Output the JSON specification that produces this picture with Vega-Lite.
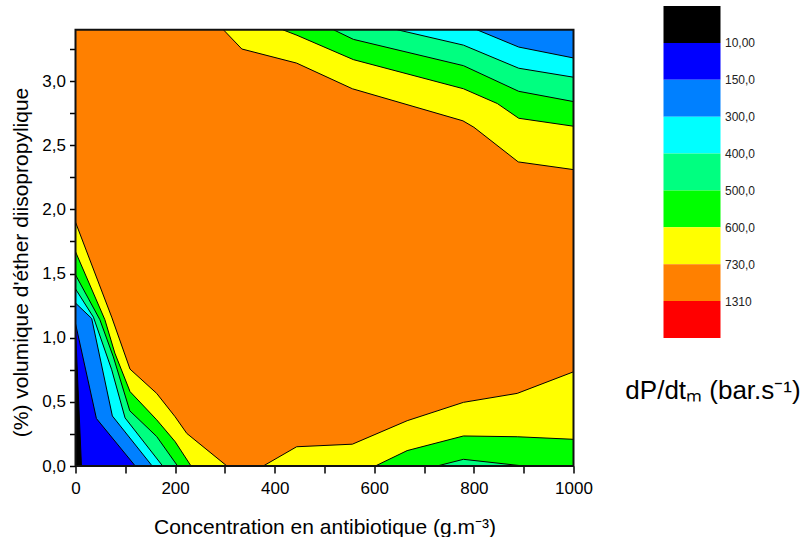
{
  "$schema": "https://vega.github.io/schema/vega-lite/v6.json",
  "background": "white",
  "padding": {"left": 10.5, "top": 6, "right": 0, "bottom": 0},
  "config": {"font": "Liberation Sans", "view": {"stroke": null}},
  "spacing": 90,
  "bounds": "flush",
  "datasets": {
    "poly": [
      {"p":"bg","lev":0,"i":0,"x":0,"y":0},{"p":"bg","lev":0,"i":1,"x":0,"y":3.4},{"p":"bg","lev":0,"i":2,"x":1000,"y":3.4},{"p":"bg","lev":0,"i":3,"x":1000,"y":0},

      {"p":"1a","lev":1,"i":0,"x":0,"y":0},{"p":"1a","lev":1,"i":1,"x":0,"y":1.9},{"p":"1a","lev":1,"i":2,"x":72.7,"y":1.16},{"p":"1a","lev":1,"i":3,"x":109.5,"y":0.755},{"p":"1a","lev":1,"i":4,"x":163,"y":0.566},{"p":"1a","lev":1,"i":5,"x":200,"y":0.384},{"p":"1a","lev":1,"i":6,"x":223.5,"y":0.254},{"p":"1a","lev":1,"i":7,"x":304,"y":0},
      {"p":"1b","lev":1,"i":0,"x":377,"y":0},{"p":"1b","lev":1,"i":1,"x":444,"y":0.15},{"p":"1b","lev":1,"i":2,"x":556,"y":0.17},{"p":"1b","lev":1,"i":3,"x":666,"y":0.353},{"p":"1b","lev":1,"i":4,"x":779,"y":0.496},{"p":"1b","lev":1,"i":5,"x":887,"y":0.566},{"p":"1b","lev":1,"i":6,"x":1000,"y":0.734},{"p":"1b","lev":1,"i":7,"x":1000,"y":0},
      {"p":"1c","lev":1,"i":0,"x":297,"y":3.4},{"p":"1c","lev":1,"i":1,"x":334,"y":3.25},{"p":"1c","lev":1,"i":2,"x":444,"y":3.14},{"p":"1c","lev":1,"i":3,"x":556,"y":2.94},{"p":"1c","lev":1,"i":4,"x":778,"y":2.69},{"p":"1c","lev":1,"i":5,"x":800,"y":2.64},{"p":"1c","lev":1,"i":6,"x":889,"y":2.37},{"p":"1c","lev":1,"i":7,"x":1000,"y":2.31},{"p":"1c","lev":1,"i":8,"x":1000,"y":3.4},

      {"p":"2a","lev":2,"i":0,"x":0,"y":0},{"p":"2a","lev":2,"i":1,"x":0,"y":1.67},{"p":"2a","lev":2,"i":2,"x":59,"y":1.14},{"p":"2a","lev":2,"i":3,"x":79,"y":0.88},{"p":"2a","lev":2,"i":4,"x":109.5,"y":0.58},{"p":"2a","lev":2,"i":5,"x":163,"y":0.36},{"p":"2a","lev":2,"i":6,"x":200,"y":0.19},{"p":"2a","lev":2,"i":7,"x":232,"y":0},
      {"p":"2b","lev":2,"i":0,"x":602,"y":0},{"p":"2b","lev":2,"i":1,"x":666,"y":0.12},{"p":"2b","lev":2,"i":2,"x":779,"y":0.234},{"p":"2b","lev":2,"i":3,"x":887,"y":0.228},{"p":"2b","lev":2,"i":4,"x":1000,"y":0.208},{"p":"2b","lev":2,"i":5,"x":1000,"y":0},
      {"p":"2c","lev":2,"i":0,"x":416,"y":3.4},{"p":"2c","lev":2,"i":1,"x":444.6,"y":3.357},{"p":"2c","lev":2,"i":2,"x":558,"y":3.167},{"p":"2c","lev":2,"i":3,"x":779,"y":2.94},{"p":"2c","lev":2,"i":4,"x":847,"y":2.825},{"p":"2c","lev":2,"i":5,"x":890,"y":2.71},{"p":"2c","lev":2,"i":6,"x":1000,"y":2.648},{"p":"2c","lev":2,"i":7,"x":1000,"y":3.4},

      {"p":"3a","lev":3,"i":0,"x":0,"y":0},{"p":"3a","lev":3,"i":1,"x":0,"y":1.49},{"p":"3a","lev":3,"i":2,"x":49,"y":1.14},{"p":"3a","lev":3,"i":3,"x":76,"y":0.85},{"p":"3a","lev":3,"i":4,"x":109,"y":0.43},{"p":"3a","lev":3,"i":5,"x":163,"y":0.23},{"p":"3a","lev":3,"i":6,"x":205,"y":0},
      {"p":"3b","lev":3,"i":0,"x":726,"y":0},{"p":"3b","lev":3,"i":1,"x":779,"y":0.052},{"p":"3b","lev":3,"i":2,"x":900,"y":0},
      {"p":"3c","lev":3,"i":0,"x":518,"y":3.4},{"p":"3c","lev":3,"i":1,"x":558,"y":3.325},{"p":"3c","lev":3,"i":2,"x":779,"y":3.12},{"p":"3c","lev":3,"i":3,"x":890,"y":2.92},{"p":"3c","lev":3,"i":4,"x":1000,"y":2.84},{"p":"3c","lev":3,"i":5,"x":1000,"y":3.4},

      {"p":"4a","lev":4,"i":0,"x":0,"y":0},{"p":"4a","lev":4,"i":1,"x":0,"y":1.38},{"p":"4a","lev":4,"i":2,"x":36,"y":1.16},{"p":"4a","lev":4,"i":3,"x":72.7,"y":0.75},{"p":"4a","lev":4,"i":4,"x":99.5,"y":0.375},{"p":"4a","lev":4,"i":5,"x":175,"y":0},
      {"p":"4c","lev":4,"i":0,"x":646,"y":3.4},{"p":"4c","lev":4,"i":1,"x":779,"y":3.28},{"p":"4c","lev":4,"i":2,"x":890,"y":3.1},{"p":"4c","lev":4,"i":3,"x":1000,"y":3.03},{"p":"4c","lev":4,"i":4,"x":1000,"y":3.4},

      {"p":"5a","lev":5,"i":0,"x":0,"y":0},{"p":"5a","lev":5,"i":1,"x":0,"y":1.27},{"p":"5a","lev":5,"i":2,"x":32.5,"y":1.15},{"p":"5a","lev":5,"i":3,"x":74,"y":0.39},{"p":"5a","lev":5,"i":4,"x":154,"y":0},
      {"p":"5c","lev":5,"i":0,"x":806,"y":3.4},{"p":"5c","lev":5,"i":1,"x":890,"y":3.265},{"p":"5c","lev":5,"i":2,"x":1000,"y":3.18},{"p":"5c","lev":5,"i":3,"x":1000,"y":3.4},

      {"p":"6a","lev":6,"i":0,"x":0,"y":0},{"p":"6a","lev":6,"i":1,"x":0,"y":1.11},{"p":"6a","lev":6,"i":2,"x":42,"y":0.37},{"p":"6a","lev":6,"i":3,"x":120,"y":0},

      {"p":"7a","lev":7,"i":0,"x":0,"y":0},{"p":"7a","lev":7,"i":1,"x":0,"y":1.06},{"p":"7a","lev":7,"i":2,"x":12,"y":0},

      {"p":"fr","lev":9,"i":0,"x":0,"y":0},{"p":"fr","lev":9,"i":1,"x":0,"y":3.4},{"p":"fr","lev":9,"i":2,"x":1000,"y":3.4},{"p":"fr","lev":9,"i":3,"x":1000,"y":0},{"p":"fr","lev":9,"i":4,"x":0,"y":0}
    ],
    "bands": [
      {"band":"<10","k":0,"k2":1},
      {"band":"10-150","k":1,"k2":2},
      {"band":"150-300","k":2,"k2":3},
      {"band":"300-400","k":3,"k2":4},
      {"band":"400-500","k":4,"k2":5},
      {"band":"500-600","k":5,"k2":6},
      {"band":"600-730","k":6,"k2":7},
      {"band":"730-1310","k":7,"k2":8},
      {"band":">1310","k":8,"k2":9}
    ]
  },
  "hconcat": [
    {
      "width": 498,
      "height": 460,
      "data": {"name": "poly"},
      "encoding": {
        "x": {"field": "x", "type": "quantitative",
          "scale": {"domain": [0, 1000], "nice": false, "zero": false},
          "axis": {"values": [0,100,200,300,400,500,600,700,800,900,1000],
            "labelExpr": "datum.value % 200 === 0 ? format(datum.value, 'd') : ''",
            "title": "Concentration en antibiotique (g.m⁻³)",
            "grid": false, "domain": false, "tickColor": "black", "tickWidth": 1.5, "tickSize": 7,
            "labelFontSize": 17, "labelColor": "black", "labelPadding": 7, "labelFlush": false, "labelOverlap": false,
            "titleFontSize": 21, "titleFontWeight": "normal", "titleColor": "black", "titlePadding": 20}},
        "y": {"field": "y", "type": "quantitative",
          "scale": {"domain": [0, 3.585], "nice": false, "zero": false},
          "axis": {"values": [0,0.25,0.5,0.75,1,1.25,1.5,1.75,2,2.25,2.5,2.75,3,3.25],
            "labelExpr": "(datum.value * 2) % 1 === 0 ? replace(format(datum.value, '.1f'), '.', ',') : ''",
            "title": "(%) volumique d'éther diisopropylique",
            "grid": false, "domain": false, "tickColor": "black", "tickWidth": 1.5, "tickSize": 6,
            "labelFontSize": 17, "labelColor": "black", "labelPadding": 4, "labelOverlap": false,
            "titleFontSize": 21, "titleFontWeight": "normal", "titleColor": "black", "titlePadding": 10, "titleY": 256}},
        "detail": {"field": "p", "type": "nominal"},
        "order": {"field": "i", "type": "quantitative"}
      },
      "layer": [
        {"transform": [{"filter": "datum.lev == 0"}], "mark": {"type": "line", "filled": true, "fill": "#FF8000", "strokeWidth": 0}},
        {"transform": [{"filter": "datum.lev == 1"}], "mark": {"type": "line", "filled": true, "fill": "#FFFF00", "stroke": "black", "strokeWidth": 1}},
        {"transform": [{"filter": "datum.lev == 2"}], "mark": {"type": "line", "filled": true, "fill": "#00FF00", "stroke": "black", "strokeWidth": 1}},
        {"transform": [{"filter": "datum.lev == 3"}], "mark": {"type": "line", "filled": true, "fill": "#00FF80", "stroke": "black", "strokeWidth": 1}},
        {"transform": [{"filter": "datum.lev == 4"}], "mark": {"type": "line", "filled": true, "fill": "#00FFFF", "stroke": "black", "strokeWidth": 1}},
        {"transform": [{"filter": "datum.lev == 5"}], "mark": {"type": "line", "filled": true, "fill": "#0080FF", "stroke": "black", "strokeWidth": 1}},
        {"transform": [{"filter": "datum.lev == 6"}], "mark": {"type": "line", "filled": true, "fill": "#0000FF", "stroke": "black", "strokeWidth": 1}},
        {"transform": [{"filter": "datum.lev == 7"}], "mark": {"type": "line", "filled": true, "fill": "#000000", "stroke": "black", "strokeWidth": 1}},
        {"transform": [{"filter": "datum.lev == 9"}], "mark": {"type": "line", "stroke": "#111111", "strokeWidth": 2}}
      ]
    },
    {
      "width": 57,
      "height": 332,
      "data": {"name": "bands"},
      "mark": {"type": "rect"},
      "encoding": {
        "y": {"field": "k", "type": "quantitative",
          "scale": {"domain": [0, 9], "reverse": true, "nice": false, "zero": false},
          "axis": {"orient": "right", "values": [1,2,3,4,5,6,7,8],
            "labelExpr": "['', '10,00', '150,0', '300,0', '400,0', '500,0', '600,0', '730,0', '1310'][datum.value]",
            "domain": false, "ticks": false, "grid": false, "labelFontSize": 12, "labelPadding": 4, "labelColor": "#222222", "title": null}},
        "y2": {"field": "k2"},
        "x": {"datum": 0, "type": "quantitative", "scale": {"domain": [0, 1], "nice": false, "zero": false},
          "axis": {"title": "dP/dtₘ (bar.s⁻¹)", "labels": false, "ticks": false, "domain": false, "grid": false,
            "titleFontSize": 26, "titleFontWeight": "normal", "titleColor": "black",
            "titleX": 49, "titleAlign": "center", "titleBaseline": "alphabetic", "titlePadding": 60}},
        "x2": {"datum": 1},
        "fill": {"field": "band", "type": "nominal",
          "scale": {"domain": ["<10","10-150","150-300","300-400","400-500","500-600","600-730","730-1310",">1310"],
            "range": ["#000000","#0000FF","#0080FF","#00FFFF","#00FF80","#00FF00","#FFFF00","#FF8000","#FF0000"]},
          "legend": null}
      }
    }
  ]
}
